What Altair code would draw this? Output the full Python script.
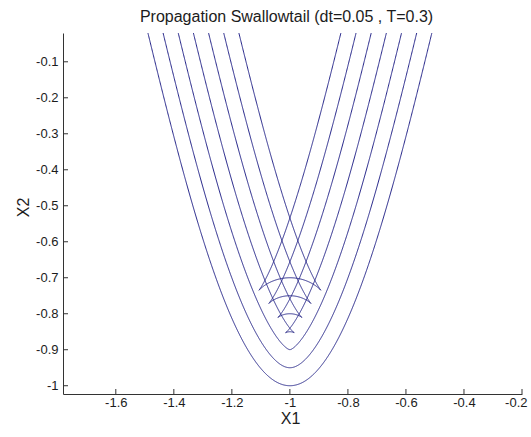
import altair as alt
import numpy as np
import pandas as pd

TITLE = "Propagation Swallowtail (dt=0.05 , T=0.3)"

# front times: t = 0 .. T in steps of dt
TIME_STEPS = [0.0, 0.05, 0.10, 0.15, 0.20, 0.25, 0.30]

# initial front: x2 = V2 + A*u^2 - C*u^4 with u = x1 - V1  (vertex at (V1, V2))
VERTEX_X1 = -1.0
VERTEX_X2 = -1.0
FRONT_A = 4.8
FRONT_C = 2.95

X1_TICKS = [-1.6, -1.4, -1.2, -1.0, -0.8, -0.6, -0.4, -0.2]
X2_TICKS = [-1.0, -0.9, -0.8, -0.7, -0.6, -0.5, -0.4, -0.3, -0.2, -0.1]
X1_RANGE = [-1.782, -0.2]
X2_RANGE = [-1.023, -0.02]

# each point of the initial front travels along its normal with unit speed
u = np.linspace(-0.75, 0.75, 1501)
height = FRONT_A * u ** 2 - FRONT_C * u ** 4
slope = 2 * FRONT_A * u - 4 * FRONT_C * u ** 3
norm = np.sqrt(1.0 + slope ** 2)
nx = -slope / norm
ny = 1.0 / norm

frames = []
for t in TIME_STEPS:
    frames.append(pd.DataFrame({
        "t": t,
        "i": np.arange(u.size),
        "x1": VERTEX_X1 + u + t * nx,
        "x2": VERTEX_X2 + height + t * ny,
    }))
fronts = pd.concat(frames, ignore_index=True)

W, H = 459, 361
FONT = "Liberation Sans"
TEXT = "#1c1c1c"
AXIS = "#333333"

xscale = alt.Scale(domain=X1_RANGE, nice=False, zero=False)
yscale = alt.Scale(domain=X2_RANGE, nice=False, zero=False)

x_axis = alt.Axis(
    values=X1_TICKS, labelExpr="'' + datum.value", grid=False,
    ticks=False, tickSize=0, labelPadding=2, labelFlush=True, labelFlushOffset=5,
    labelOverlap=False,
    labelFont=FONT, labelFontSize=13, labelColor=TEXT,
    domainColor=AXIS, domainWidth=1,
    title="X1", titleFont=FONT, titleFontSize=16, titleFontWeight="normal",
    titleColor=TEXT, titleX=227, titleY=29, titleAlign="center",
    titleBaseline="alphabetic",
)
y_axis = alt.Axis(
    values=X2_TICKS, labelExpr="'' + datum.value", grid=False,
    ticks=False, tickSize=0, labelPadding=5, labelFlush=False, labelOverlap=False,
    labelFont=FONT, labelFontSize=13, labelColor=TEXT,
    domainColor=AXIS, domainWidth=1,
    title="X2", titleFont=FONT, titleFontSize=16, titleFontWeight="normal",
    titleColor=TEXT, titleX=-40, titleY=174, titleAngle=270,
    titleAlign="center", titleBaseline="middle",
)

lines = alt.Chart(fronts).mark_line(color="#26268a", strokeWidth=1, clip=True).encode(
    x=alt.X("x1:Q", scale=xscale, axis=x_axis),
    y=alt.Y("x2:Q", scale=yscale, axis=y_axis),
    detail="t:N",
    order="i:Q",
)

# inward tick marks on both axes
xticks = alt.Chart(pd.DataFrame({"x1": X1_TICKS})).mark_rule(color=AXIS, strokeWidth=1).encode(
    x=alt.X("x1:Q", scale=xscale, axis=x_axis),
    y=alt.value(H),
    y2=alt.value(H - 5),
)
yticks = alt.Chart(pd.DataFrame({"x2": X2_TICKS})).mark_rule(color=AXIS, strokeWidth=1).encode(
    y=alt.Y("x2:Q", scale=yscale, axis=y_axis),
    x=alt.value(0),
    x2=alt.value(5),
)

chart = alt.layer(lines, xticks, yticks).properties(
    width=W,
    height=H,
    padding={"left": 63, "top": 33, "right": 9, "bottom": 43},
    autosize=alt.AutoSizeParams(type="none"),
    title=alt.TitleParams(
        text=TITLE, font=FONT, fontSize=16, fontWeight="normal", color=TEXT,
        anchor="middle", offset=8, dx=-6,
    ),
).configure_view(strokeWidth=0)

chart.save("out.html", embed_options={"renderer": "svg", "actions": False})
